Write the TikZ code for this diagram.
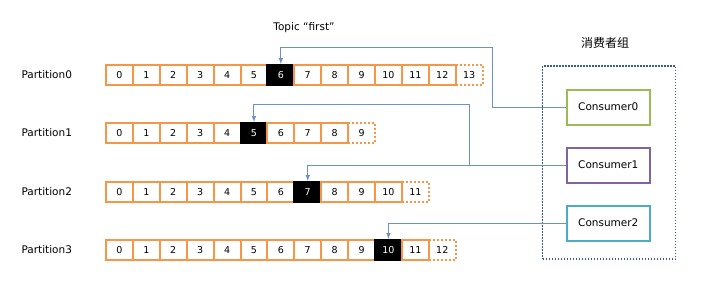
\documentclass[tikz,border=0pt]{standalone}
\usepackage{fontspec}
\setmainfont{DejaVu Sans}
\newfontfamily\cjk{Noto Sans CJK SC}
\usetikzlibrary{positioning,calc}
\definecolor{kforange}{HTML}{F79646}
\definecolor{kfline}{HTML}{6F91C9}
\definecolor{kfgrp}{HTML}{385D8A}
\definecolor{kfgreen}{HTML}{9BBB59}
\definecolor{kfpurple}{HTML}{8064A2}
\definecolor{kfcyan}{HTML}{4BACC6}

\begin{document}
\begin{tikzpicture}[x=1pt,y=-1pt,>=latex,font=\fontsize{10.5}{12}\selectfont,
        cell/.style={draw=kforange,line width=2pt,minimum width=26.9pt,minimum height=20pt,inner sep=0pt,font=\fontsize{9.5}{11}\selectfont},
        tail/.style={cell,dash pattern=on 2pt off 2pt},
        head/.style={cell,draw=black,fill=black,text=white},
        cons/.style={draw,line width=2pt,minimum width=83pt,minimum height=35pt},
        grp/.style={draw=kfgrp,line width=1.5pt,dash pattern=on 1.5pt off 1.5pt,minimum width=133pt,minimum height=193pt},
        link/.style={draw=kfline,line width=1pt,->}]
        \useasboundingbox (0,0) rectangle (704,290);
        \node (topic) at (304,28) {Topic “first”};
        \foreach \r/\y/\n/\h in {0/75/13/6,1/133/9/5,2/192/11/7,3/250/12/10}{
          \node[anchor=west] (lab\r) at (18,\y) {Partition\r};
          \foreach \i in {0,...,\n}{
            \ifnum\i=\n \node[tail] (p\r-\i) at ({106+26.9*(\i+0.5)},\y) {\i};
            \else\ifnum\i=\h \node[head] (p\r-\i) at ({106+26.9*(\i+0.5)},\y) {\i};
            \else \node[cell] (p\r-\i) at ({106+26.9*(\i+0.5)},\y) {\i};\fi\fi
          }
        }
        \node[grp] (group) at (609,162.5) {};
        \node[font=\cjk\fontsize{12}{14}\selectfont] (gtitle) at (605,43) {消费者组};
        \node[cons,draw=kfgreen] (c0) at (608.3,107) {Consumer0};
        \node[cons,draw=kfpurple] (c1) at (608.3,165) {Consumer1};
        \node[cons,draw=kfcyan] (c2) at (608.3,223) {Consumer2};
        \coordinate (k0) at (492,47);
        \coordinate (k1) at (469,104);
        \draw[link] (c0.west) -| (k0) -| (p0-6.north);
        \draw[link] (c1.west) -| (p2-7.north);
        \draw[link] (k1 |- c1.west) -- (k1) -| (p1-5.north);
        \draw[link] (c2.west) -| (p3-10.north);
      \end{tikzpicture}
\end{document}
